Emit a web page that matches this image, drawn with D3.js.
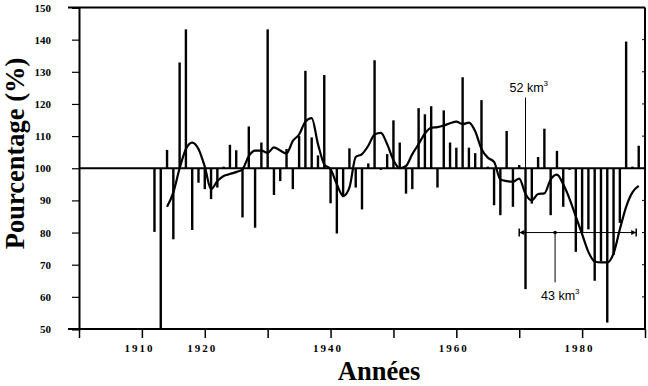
<!DOCTYPE html>
<html>
<head>
<meta charset="utf-8">
<script src="https://d3js.org/d3.v7.min.js"></script>
<style>
  body { margin: 0; background: #fff; }
  svg { display: block; }
  .tick-y text { font-family: "Liberation Serif", serif; font-weight: bold; font-size: 11px; }
  .tick-x text { font-family: "Liberation Serif", serif; font-weight: bold; font-size: 11px; letter-spacing: 2px; }
  .axis-title { font-family: "Liberation Serif", serif; font-weight: bold; font-size: 26.5px; }
  .note { font-family: "Liberation Sans", Arial, sans-serif; font-size: 12.5px; }
</style>
</head>
<body>
<div id="chart"></div>
<script>
// annual values, % of the mean
var years = [1912, 1913, 1914, 1915, 1916, 1917, 1918, 1919, 1920, 1921,
	1922, 1923, 1924, 1925, 1926, 1927, 1928, 1929, 1930, 1931,
	1932, 1933, 1934, 1935, 1936, 1937, 1938, 1939, 1940, 1941,
	1942, 1943, 1944, 1945, 1946, 1947, 1948, 1949, 1950, 1951,
	1952, 1953, 1954, 1955, 1956, 1957, 1958, 1959, 1960, 1961,
	1962, 1963, 1964, 1965, 1966, 1967, 1968, 1969, 1970, 1971,
	1972, 1973, 1974, 1975, 1976, 1977, 1978, 1979, 1980, 1981,
	1982, 1983, 1984, 1985, 1986, 1987, 1988, 1989];
var percent = [80.2, 50, 105.7, 77.9, 132.9, 143.2, 80.8, 95.5, 93.5, 90.4,
	94, 100.5, 107.3, 105.6, 84.7, 113, 81.5, 108, 143.2, 91.7,
	96, 106, 93.5, 110, 130.3, 109.6, 104, 129, 89.1, 79.7,
	91, 106.2, 94, 87.2, 101.5, 133.6, 99.5, 104.4, 114.9, 108,
	92.1, 93.5, 118.7, 116.8, 119.3, 94, 118, 108, 106.4, 128.3,
	106.4, 104.7, 121.2, 100.5, 88.5, 85.4, 111.6, 88, 101, 62.4,
	89, 103.5, 112.3, 85.4, 105.4, 88, 99.5, 74, 80, 81,
	65, 71, 52, 73, 83, 139.4, 100.5, 107];

// smoothed curve
var smoothYears = [1914, 1915, 1916, 1917, 1918, 1919, 1920, 1921, 1922, 1923,
	1924, 1925, 1926, 1927, 1928, 1929, 1930, 1931, 1932, 1933,
	1934, 1935, 1936, 1937, 1938, 1939, 1940, 1941, 1942, 1943,
	1944, 1945, 1946, 1947, 1948, 1949, 1950, 1951, 1952, 1953,
	1954, 1955, 1956, 1957, 1958, 1959, 1960, 1961, 1962, 1963,
	1964, 1965, 1966, 1967, 1968, 1969, 1970, 1971, 1972, 1973,
	1974, 1975, 1976, 1977, 1978, 1979, 1980, 1981, 1982, 1983,
	1984, 1985, 1986, 1987, 1988, 1989];
var smoothed = [88, 92.5, 100, 106, 108, 106, 100.5, 93.5, 96, 97.6,
	98.2, 98.8, 99.7, 103.8, 105.5, 105.5, 104.8, 106.5, 105.5, 104.6,
	108.5, 110.5, 114.5, 115.6, 107.5, 101.2, 99.7, 95, 91.4, 94,
	103.5, 104.4, 107, 110.5, 111, 107.5, 102.5, 100, 100.7, 104.4,
	107.5, 110.8, 112.6, 112.8, 113.3, 114, 114.5, 113.7, 114.2, 111.5,
	106, 103.3, 102, 96.5, 96, 95.8, 96.8, 92, 90, 92,
	92.2, 96.5, 98, 95, 90.5, 85, 79.5, 74, 71, 70.7,
	70.7, 73.5, 81, 88, 92.5, 94.5];

var yTicks = [50, 60, 70, 80, 90, 100, 110, 120, 130, 140, 150];
var xTicks = [1900, 1910, 1920, 1930, 1940, 1950, 1960, 1970, 1980, 1990];
var xLabels = [1910, 1920, 1940, 1960, 1980];

// annotations
var meanYear = 1971, meanTop = 122, meanLabel = "52 km";
var dryRange = [1970, 1988.6], dryLevel = 80, dryMarkYear = 1975.7, dryMarkBottom = 64.5, dryLabel = "43 km";

var svg_width = 648, svg_height = 386;

var svg = d3.select("#chart").append("svg")
	.attr("width", svg_width)
	.attr("height", svg_height);

var xScale = d3.scaleLinear().domain([1900, 1990]).range([79, 645]);
var yScale = d3.scaleLinear().domain([50, 150]).range([329, 7.5]);

// frame
svg.append("line").attr("x1", 68).attr("x2", xScale(1990))
	.attr("y1", yScale(150)).attr("y2", yScale(150))
	.attr("stroke", "#000").attr("stroke-width", 2);
svg.append("line").attr("x1", xScale(1990)).attr("x2", xScale(1990))
	.attr("y1", yScale(150)).attr("y2", yScale(50))
	.attr("stroke", "#000").attr("stroke-width", 2);

// Y-axis
var yAxis = d3.axisLeft(yScale).tickValues(yTicks).tickSize(7).tickPadding(21);
svg.append("g")
	.attr("class", "tick-y")
	.attr("transform", "translate(" + xScale(1900) + ",0)")
	.call(yAxis)
	.call(function(g) {
		g.select(".domain").attr("stroke-width", 2);
		g.selectAll(".tick line").attr("stroke-width", 1.2);
	});

// inner ticks on the right side
svg.append("g").selectAll("line")
	.data(yTicks)
	.enter()
	.append("line")
	.attr("x1", xScale(1990) - 3).attr("x2", xScale(1990))
	.attr("y1", function(d) { return yScale(d); })
	.attr("y2", function(d) { return yScale(d); })
	.attr("stroke", "#000").attr("stroke-width", 1);

// X-axis
var xAxis = d3.axisBottom(xScale).tickValues(xTicks).tickSize(9).tickPadding(6)
	.tickFormat(function(d) { return xLabels.indexOf(d) >= 0 ? d : ""; });
svg.append("g")
	.attr("class", "tick-x")
	.attr("transform", "translate(0," + yScale(50) + ")")
	.call(xAxis)
	.call(function(g) {
		g.select(".domain").remove();
		g.selectAll(".tick line").attr("stroke-width", 1.5);
		g.selectAll(".tick text").attr("dx", -3);
	});
svg.append("line").attr("x1", 68).attr("x2", xScale(1990))
	.attr("y1", yScale(50)).attr("y2", yScale(50))
	.attr("stroke", "#000").attr("stroke-width", 2);

// bars from the 100 % line
svg.append("g").selectAll(".bar")
	.data(years)
	.enter()
	.append("rect")
	.attr("class", "bar")
	.attr("x", function(d) { return xScale(d) - 1.2; })
	.attr("width", 2.4)
	.attr("y", function(d, i) { return yScale(Math.max(percent[i], 100)); })
	.attr("height", function(d, i) { return Math.abs(yScale(percent[i]) - yScale(100)); })
	.attr("fill", "#000");

// 100 % line
svg.append("line").attr("x1", xScale(1900)).attr("x2", xScale(1990))
	.attr("y1", yScale(100)).attr("y2", yScale(100))
	.attr("stroke", "#000").attr("stroke-width", 2);

// smoothed curve
var smoothLine = d3.line()
	.x(function(d, i) { return xScale(smoothYears[i]); })
	.y(function(d) { return yScale(d); })
	.curve(d3.curveMonotoneX);
svg.append("path")
	.datum(smoothed)
	.attr("d", smoothLine)
	.attr("fill", "none")
	.attr("stroke", "#000")
	.attr("stroke-width", 2.2)
	.attr("stroke-linejoin", "round");

// 52 km3 note
svg.append("line")
	.attr("x1", xScale(meanYear)).attr("x2", xScale(meanYear))
	.attr("y1", yScale(100)).attr("y2", yScale(meanTop))
	.attr("stroke", "#000").attr("stroke-width", 1);
var t1 = svg.append("text").attr("class", "note")
	.attr("x", xScale(meanYear) - 16)
	.attr("y", yScale(meanTop) - 6)
	.text(meanLabel);
t1.append("tspan").attr("dy", -6).attr("font-size", "8px").text("3");

// 43 km3 note
var x0 = xScale(dryRange[0]), x1 = xScale(dryRange[1]), yl = yScale(dryLevel);
var g43 = svg.append("g");
g43.append("line").attr("x1", x0).attr("x2", x1).attr("y1", yl).attr("y2", yl)
	.attr("stroke", "#000").attr("stroke-width", 1);
g43.append("line").attr("x1", x0).attr("x2", x0).attr("y1", yl - 4).attr("y2", yl + 4)
	.attr("stroke", "#000").attr("stroke-width", 1.5);
g43.append("line").attr("x1", x1).attr("x2", x1).attr("y1", yl - 4).attr("y2", yl + 4)
	.attr("stroke", "#000").attr("stroke-width", 1.5);
g43.append("path")
	.attr("d", "M" + x0 + "," + yl + "l5,-2.5l0,5z")
	.attr("fill", "#000");
g43.append("path")
	.attr("d", "M" + x1 + "," + yl + "l-5,-2.5l0,5z")
	.attr("fill", "#000");
g43.append("circle").attr("cx", xScale(dryMarkYear)).attr("cy", yl).attr("r", 1.8).attr("fill", "#000");
g43.append("line")
	.attr("x1", xScale(dryMarkYear)).attr("x2", xScale(dryMarkYear))
	.attr("y1", yl).attr("y2", yScale(dryMarkBottom))
	.attr("stroke", "#000").attr("stroke-width", 1);
var t2 = g43.append("text").attr("class", "note")
	.attr("x", xScale(dryMarkYear) - 14)
	.attr("y", yScale(dryMarkBottom) + 18)
	.text(dryLabel);
t2.append("tspan").attr("dy", -6).attr("font-size", "8px").text("3");

// axis titles
svg.append("text")
	.attr("class", "axis-title")
	.attr("text-anchor", "middle")
	.attr("transform", "translate(24," + 153.5 + ") rotate(-90)")
	.text("Pourcentage (%)");
svg.append("text")
	.attr("class", "axis-title")
	.attr("text-anchor", "middle")
	.attr("x", 379)
	.attr("y", 380)
	.text("Années");
</script>
</body>
</html>
